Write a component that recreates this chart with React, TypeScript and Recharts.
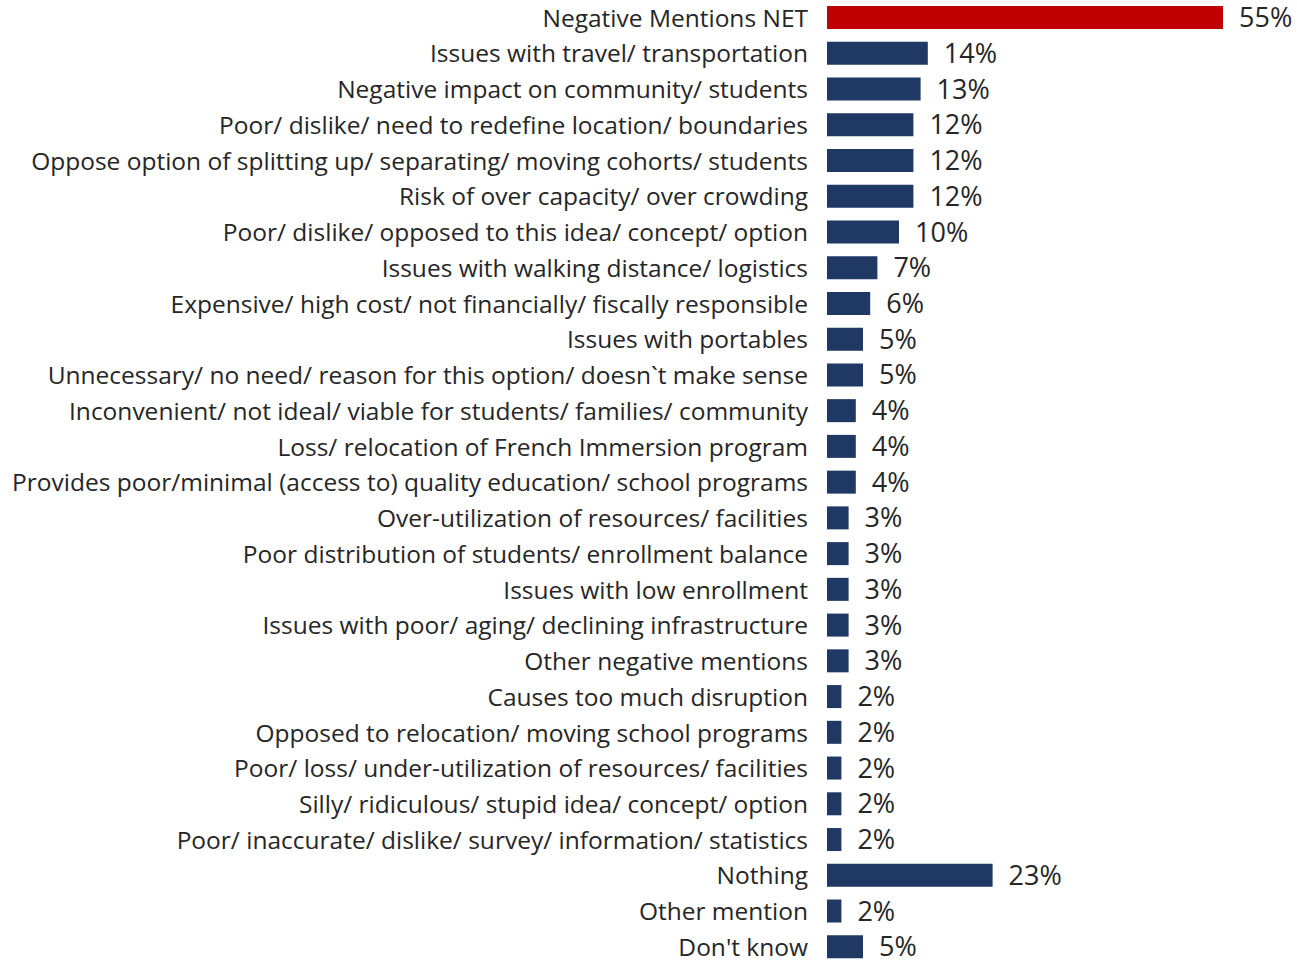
import React from 'react';
import { BarChart, Bar, XAxis, YAxis, Cell, LabelList } from 'recharts';

const categories = [
  'Negative Mentions NET',
  'Issues with travel/ transportation',
  'Negative impact on community/ students',
  'Poor/ dislike/ need to redefine location/ boundaries',
  'Oppose option of splitting up/ separating/ moving cohorts/ students',
  'Risk of over capacity/ over crowding',
  'Poor/ dislike/ opposed to this idea/ concept/ option',
  'Issues with walking distance/ logistics',
  'Expensive/ high cost/ not financially/ fiscally responsible',
  'Issues with portables',
  'Unnecessary/ no need/ reason for this option/ doesn`t make sense',
  'Inconvenient/ not ideal/ viable for students/ families/ community',
  'Loss/ relocation of French Immersion program',
  'Provides poor/minimal (access to) quality education/ school programs',
  'Over-utilization of resources/ facilities',
  'Poor distribution of students/ enrollment balance',
  'Issues with low enrollment',
  'Issues with poor/ aging/ declining infrastructure',
  'Other negative mentions',
  'Causes too much disruption',
  'Opposed to relocation/ moving school programs',
  'Poor/ loss/ under-utilization of resources/ facilities',
  'Silly/ ridiculous/ stupid idea/ concept/ option',
  'Poor/ inaccurate/ dislike/ survey/ information/ statistics',
  'Nothing',
  'Other mention',
  "Don't know",
];

const percents = [55, 14, 13, 12, 12, 12, 10, 7, 6, 5, 5, 4, 4, 4, 3, 3, 3, 3, 3, 2, 2, 2, 2, 2, 23, 2, 5];

const highlighted = ['Negative Mentions NET'];

const RED = '#C00000';
const NAVY = '#1F3864';
const TEXT = '#262626';
const FONT = '"Open Sans", sans-serif';

const data = categories.map((name, i) => ({ name, value: percents[i] }));

const CategoryTick = (props: any) => {
  const { x, y, payload } = props;
  return (
    <text
      x={x}
      y={y}
      dy="0.36em"
      textAnchor="end"
      fill={TEXT}
      fontSize={24.5}
      fontFamily={FONT}
    >
      {payload.value}
    </text>
  );
};

const App: React.FC = () => {
  return (
    <div style={{ position: 'absolute', left: 0, top: 0, width: 1297, height: 960, overflow: 'hidden', background: '#fff' }}>
      <BarChart
        width={1297}
        height={965}
        data={data}
        layout="vertical"
        margin={{ top: 0, right: 38, bottom: 0, left: 0 }}
        barSize={23}
      >
        <XAxis type="number" domain={[0, 60]} hide />
        <YAxis
          type="category"
          dataKey="name"
          width={827}
          axisLine={false}
          tickLine={false}
          tickSize={0}
          tickMargin={19}
          interval={0}
          tick={<CategoryTick />}
        />
        <Bar dataKey="value" isAnimationActive={false}>
          {data.map((d) => (
            <Cell key={d.name} fill={highlighted.includes(d.name) ? RED : NAVY} />
          ))}
          <LabelList
            dataKey="value"
            position="right"
            offset={16}
            formatter={(v: any) => `${v}%`}
            fill={TEXT}
            fontSize={27}
            fontFamily={FONT}
          />
        </Bar>
      </BarChart>
    </div>
  );
};

export default App;
